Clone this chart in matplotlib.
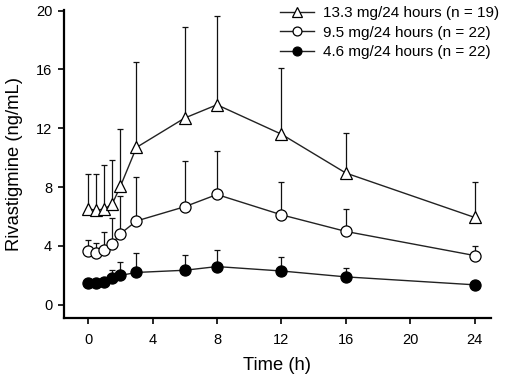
import numpy as np
import matplotlib.pyplot as plt

plt.rcParams['font.family'] = ['Liberation Sans', 'DejaVu Sans']

# Sampling times (h)
time_h = [0, 0.5, 1, 1.5, 2, 3, 6, 8, 12, 16, 24]

# Mean concentrations (ng/mL)
mean_133 = [6.5, 6.45, 6.5, 6.87, 8.05, 10.7, 12.7, 13.6, 11.6, 8.96, 5.94]
mean_95 = [3.63, 3.5, 3.72, 4.15, 4.83, 5.7, 6.67, 7.5, 6.12, 4.99, 3.35]
mean_46 = [1.5, 1.5, 1.55, 1.8, 2.0, 2.2, 2.35, 2.6, 2.3, 1.9, 1.36]

# Upper ends of the SD bars (ng/mL)
upper_133 = [8.9, 8.9, 9.5, 9.84, 11.97, 16.5, 18.9, 19.6, 16.1, 11.7, 8.35]
upper_95 = [4.4, 4.2, 4.95, 5.9, 7.37, 8.69, 9.78, 10.46, 8.35, 6.5, 4.03]
upper_46 = [1.6, 1.6, 1.7, 2.4, 2.9, 3.5, 3.4, 3.7, 3.25, 2.5, 1.45]

labels = ["13.3 mg/24 hours (n = 19)", "9.5 mg/24 hours (n = 22)",
          "4.6 mg/24 hours (n = 22)"]

fig = plt.figure(figsize=(5.08, 3.8), dpi=100)
ax = fig.add_axes([0.126, 0.163, 0.84, 0.811])

series = [
    (mean_133, upper_133, "^", "white", labels[0]),
    (mean_95, upper_95, "o", "white", labels[1]),
    (mean_46, upper_46, "o", "black", labels[2]),
]

handles = []
for i, (m, up, mk, fc, lab) in enumerate(series):
    m = np.array(m)
    err = np.array(up) - m
    ax.errorbar(time_h, m, yerr=[np.zeros_like(m), err], fmt="none",
                ecolor="#111111", elinewidth=0.9, capsize=2.2, capthick=0.9,
                zorder=1 + i)
    h, = ax.plot(time_h, m, "-", color="#222222", lw=1.0, marker=mk,
                 markersize=8.5 if mk == "^" else 8, markerfacecolor=fc,
                 markeredgecolor="black", markeredgewidth=0.9, label=lab,
                 zorder=4 + i)
    handles.append(h)

ax.set_xlim(-1.5, 25)
ax.set_ylim(-0.9, 20.05)
ax.set_xticks([0, 4, 8, 12, 16, 20, 24])
ax.set_yticks([0, 4, 8, 12, 16, 20])
ax.tick_params(direction="out", length=4, width=1.2, labelsize=10.5)
ax.tick_params(axis="x", pad=7)
ax.tick_params(axis="y", pad=4.5)

for s in ["top", "right"]:
    ax.spines[s].set_visible(False)
for s in ["left", "bottom"]:
    ax.spines[s].set_linewidth(1.6)

ax.set_xlabel("Time (h)", fontsize=13.2, labelpad=7)
ax.set_ylabel("Rivastigmine (ng/mL)", fontsize=13.2, labelpad=9)

ax.legend(handles=handles, loc="upper right", frameon=False, fontsize=11,
          handlelength=2.2, handletextpad=0.62, labelspacing=0.36,
          markerscale=0.8, borderaxespad=0.0,
          bbox_to_anchor=(1.035, 1.032))

fig.savefig("out.png", dpi=100)
